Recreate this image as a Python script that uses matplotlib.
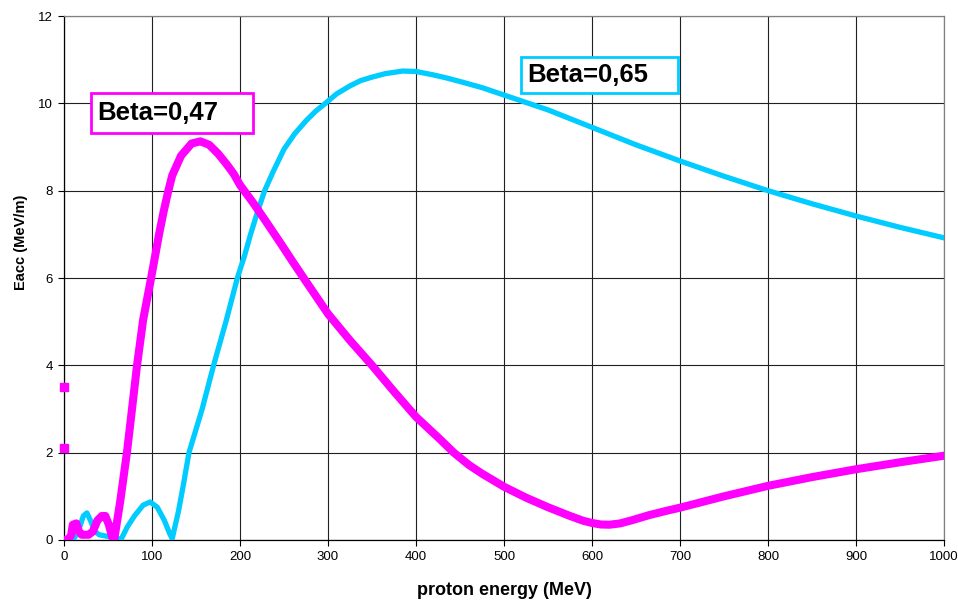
import numpy as np
import matplotlib
matplotlib.use("Agg")
import matplotlib.pyplot as plt
from matplotlib.patches import Rectangle

plt.rcParams['font.family'] = ['Liberation Sans', 'DejaVu Sans']

#=====================data===============
# beta = 0.47 cavity (magenta)
e_047 = [0, 5, 8, 10, 14, 17, 20, 28, 33, 38, 43, 47, 51, 55, 57,
         64, 71.5, 77, 83, 90, 99, 108, 113, 118, 123, 133, 145, 155, 165, 175, 185,
         193, 200, 215, 230, 246, 260, 274, 300, 325, 350, 375, 400, 425, 443, 460, 475,
         500, 525, 550, 575, 590, 600, 610, 620, 632, 645, 665, 685, 700, 750, 800,
         850, 900, 950, 1000]
eacc_047 = [0, 0.02, 0.1, 0.35, 0.38, 0.2, 0.12, 0.12, 0.2, 0.45, 0.55, 0.55, 0.35, 0.05, 0.0,
            0.9, 2.0, 2.95, 4.0, 5.05, 6.0, 7.0, 7.5, 7.95, 8.35, 8.8, 9.08, 9.13, 9.05, 8.85, 8.6,
            8.38, 8.13, 7.72, 7.28, 6.8, 6.37, 5.95, 5.18, 4.57, 4.0, 3.4, 2.82, 2.35, 2.0, 1.72, 1.52,
            1.22, 0.97, 0.75, 0.55, 0.44, 0.39, 0.355, 0.35, 0.38, 0.45, 0.57, 0.67, 0.74, 1.0, 1.24,
            1.44, 1.62, 1.78, 1.93]
# isolated points at the very start of the beta=0.47 series
e_047_start = [0, 0]
eacc_047_start = [3.5, 2.1]

# beta = 0.65 cavity (cyan)
e_065 = [0, 5, 12, 17, 22, 26, 30, 35, 40, 45, 50, 57, 65,
         72, 80, 90, 98, 106, 114, 120, 123, 126, 130, 136, 142, 157, 170, 184,
         197, 205, 212, 220, 228, 238, 250, 262, 275, 286, 297, 310, 325, 337, 350, 365,
         385, 400, 420, 435, 450, 475, 500, 550,
         600, 650, 700, 750, 800, 850, 900, 950, 1000]
eacc_065 = [0, 0.02, 0.05, 0.25, 0.55, 0.62, 0.45, 0.2, 0.12, 0.1, 0.08, 0.04, 0.02,
            0.3, 0.55, 0.8, 0.87, 0.75, 0.45, 0.15, 0.03, 0.3, 0.65, 1.3, 2.0, 3.0, 4.0, 5.0,
            6.0, 6.5, 7.0, 7.52, 8.0, 8.45, 8.95, 9.3, 9.6, 9.82, 10.0, 10.22, 10.4, 10.52, 10.6, 10.68,
            10.74, 10.73, 10.65, 10.58, 10.5, 10.36, 10.19, 9.85,
            9.45, 9.05, 8.68, 8.33, 8.0, 7.7, 7.42, 7.16, 6.92]

labels = ["Beta=0,47", "Beta=0,65"]
col_047 = '#FF00FF'
col_065 = '#00CCFF'

#====================Plot=======================
fig = plt.figure(figsize=(9.58, 6.02), dpi=100)
ax = fig.add_axes([0.0668, 0.103, 0.9186, 0.8704])

ax.plot(e_065, eacc_065, color=col_065, linewidth=3.8, solid_joinstyle='round', zorder=3)
ax.plot(e_047, eacc_047, color=col_047, linewidth=5.8, solid_joinstyle='round', zorder=4)
ax.plot(e_047_start, eacc_047_start, linestyle='none', marker='s', markersize=5.5,
        color=col_047, clip_on=False, zorder=5)

ax.set_xlim(0, 1000)
ax.set_ylim(0, 12)
ax.set_xticks(np.arange(0, 1001, 100))
ax.set_yticks(np.arange(0, 13, 2))
ax.grid(True, color='#202020', linewidth=0.8)
ax.set_axisbelow(True)
ax.tick_params(labelsize=9.5, length=4, width=0.8, color='black', pad=4)

for s in ['top', 'right']:
    ax.spines[s].set_color('#808080')
for s in ['left', 'bottom']:
    ax.spines[s].set_color('black')
for s in ax.spines.values():
    s.set_linewidth(0.9)

ax.set_xlabel('proton energy (MeV)', fontsize=13, fontweight='bold')
ax.xaxis.set_label_coords(0.5006, -0.08)
ax.set_ylabel('Eacc (MeV/m)', fontsize=10.5, fontweight='bold')
ax.yaxis.set_label_coords(-0.041, 0.569)

# label boxes (data coordinates)
ax.add_patch(Rectangle((30.7, 9.32), 184.3, 0.92, facecolor='white', edgecolor=col_047,
                       linewidth=2, zorder=6))
ax.text(37.5, 9.78, labels[0], fontsize=18.5, fontweight='bold', va='center', ha='left', zorder=7)
ax.add_patch(Rectangle((518.8, 10.24), 178.6, 0.83, facecolor='white', edgecolor=col_065,
                       linewidth=2, zorder=6))
ax.text(526.4, 10.65, labels[1], fontsize=18.5, fontweight='bold', va='center', ha='left', zorder=7)

plt.savefig('out.png', dpi=100)
